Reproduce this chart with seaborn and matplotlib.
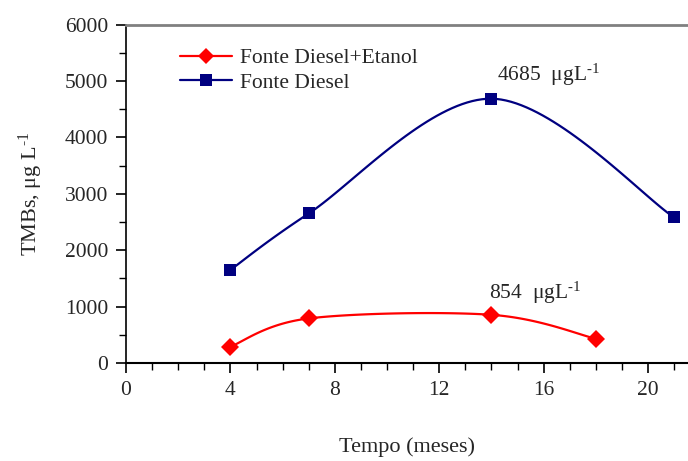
import numpy as np
import pandas as pd
import seaborn as sns
import matplotlib
matplotlib.use("Agg")
import matplotlib.pyplot as plt
from matplotlib.lines import Line2D
from matplotlib.ticker import MultipleLocator

# ---- data ----
tempo_etanol = [4, 7, 14, 18]
tmb_etanol = [290, 790, 854, 430]
tempo_diesel = [4, 7, 14, 21]
tmb_diesel = [1650, 2650, 4685, 2580]
series_names = ["Fonte Diesel+Etanol", "Fonte Diesel"]
x_ticks = [0, 4, 8, 12, 16, 20]
y_ticks = [0, 1000, 2000, 3000, 4000, 5000, 6000]

sns.set_style("white")
plt.rcParams["font.family"] = ["Liberation Serif", "DejaVu Serif"]
plt.rcParams["mathtext.fontset"] = "custom"
plt.rcParams["mathtext.rm"] = "Liberation Serif"
plt.rcParams["mathtext.it"] = "Liberation Serif:italic"

FS = 15.5
SUP = "$^{\\mathrm{\u2010}1}$"

fig = plt.figure(figsize=(6.88, 4.61), dpi=100)
ax = fig.add_axes([126 / 688, 1 - 363 / 461, (688 - 126) / 688, (363 - 24.5) / 461])

XMAX = 21.53
YMAX = 6000
# pixel scale of the axes, used so the smoothing looks like the reference
sx = 562 / XMAX
sy = 338.5 / YMAX


def smooth(xs, ys, n=40):
    P = np.column_stack([np.asarray(xs, float) * sx, np.asarray(ys, float) * sy])
    P = np.vstack([P[0], P, P[-1]])
    parts = []
    t = np.linspace(0, 1, n)[:, None]
    for i in range(1, len(P) - 2):
        p0, p1, p2, p3 = P[i - 1], P[i], P[i + 1], P[i + 2]
        c1 = p1 + (p2 - p0) / 6
        c2 = p2 - (p3 - p1) / 6
        B = (1 - t) ** 3 * p1 + 3 * (1 - t) ** 2 * t * c1 + 3 * (1 - t) * t ** 2 * c2 + t ** 3 * p2
        parts.append(B if i == 1 else B[1:])
    B = np.vstack(parts)
    return B[:, 0] / sx, B[:, 1] / sy


red = "#FF0000"
navy = "#000080"

for xs, ys, col, mk, ms in [
    (tempo_etanol, tmb_etanol, red, "D", 9),
    (tempo_diesel, tmb_diesel, navy, "s", 9),
]:
    cx, cy = smooth(xs, ys)
    sns.lineplot(x=cx, y=cy, sort=False, estimator=None, color=col, lw=1.6, ax=ax)
    df = pd.DataFrame({"x": xs, "y": ys})
    ax.plot(df["x"], df["y"], linestyle="none", marker=mk, color=col, ms=ms,
            markeredgewidth=0, zorder=5, clip_on=False)

ax.set_xlim(0, XMAX)
ax.set_ylim(0, YMAX)
ax.set_xticks(x_ticks)
ax.set_yticks(y_ticks)
ax.xaxis.set_minor_locator(MultipleLocator(1))
ax.yaxis.set_minor_locator(MultipleLocator(500))
ax.tick_params(axis="both", which="major", direction="out", length=7, width=1.2,
               labelsize=FS, color="black", pad=6, left=True, bottom=True)
ax.tick_params(axis="both", which="minor", direction="out", length=5, width=1,
               color="black", left=True, bottom=True)

ax.spines["right"].set_visible(False)
ax.spines["top"].set_color("#808080")
ax.spines["top"].set_linewidth(2)
ax.spines["left"].set_color("black")
ax.spines["bottom"].set_color("black")
ax.spines["left"].set_linewidth(1.2)
ax.spines["bottom"].set_linewidth(1.5)

ax.set_xlabel("Tempo (meses)", fontsize=FS + 0.5, labelpad=27)
ax.set_ylabel("TMBs, μg L" + SUP, fontsize=FS + 0.5, labelpad=14)

ax.text(14.2, 5100, "4685  μgL" + SUP, fontsize=FS, va="center", ha="left")
ax.text(13.9, 1240, "854  μgL" + SUP, fontsize=FS, va="center", ha="left")

handles = [
    Line2D([], [], color=red, lw=1.6, marker="D", ms=8, markeredgewidth=0),
    Line2D([], [], color=navy, lw=1.6, marker="s", ms=8, markeredgewidth=0),
]
ax.legend(handles, series_names, loc="upper left", bbox_to_anchor=(0.096, 0.93),
          frameon=False, fontsize=FS, handlelength=2.4, handletextpad=0.4,
          borderpad=0, borderaxespad=0, labelspacing=0.2)

fig.savefig("out.png", dpi=100)
